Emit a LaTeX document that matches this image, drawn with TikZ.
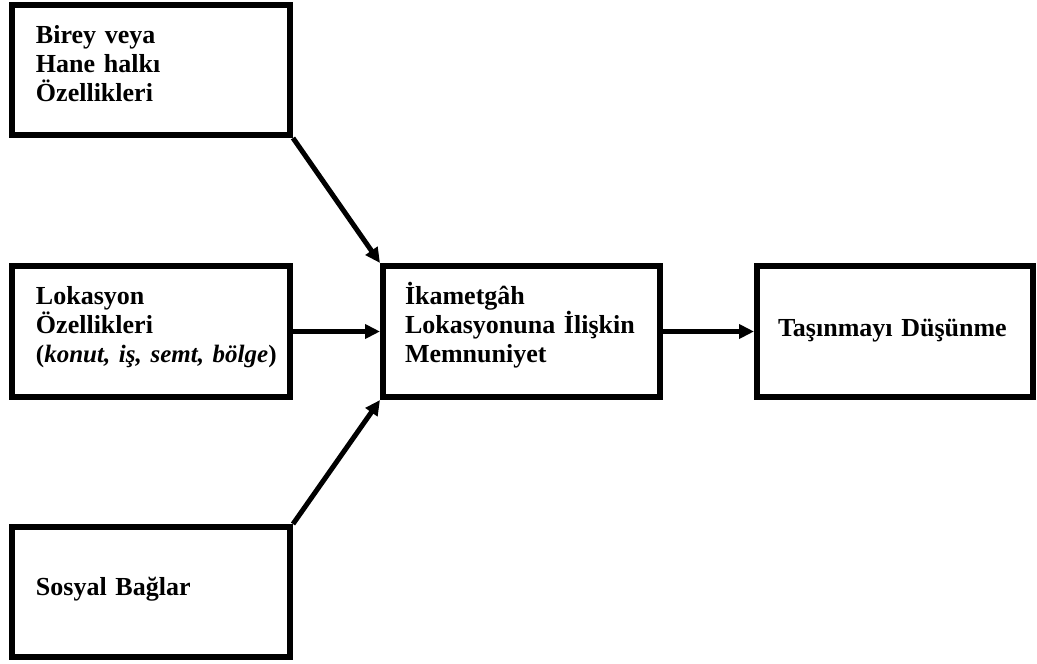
\documentclass[tikz,border=0pt]{standalone}
\usepackage{fontspec}
\setmainfont{Liberation Serif}
\usetikzlibrary{arrows.meta}
\newcommand{\inset}[2]{\leftskip=#1\relax\hyphenpenalty=10000\relax #2\par}
\begin{document}
\begin{tikzpicture}[x=1pt,y=-1pt,
  box/.style={draw, line width=6pt, anchor=north west, align=left,
    text width=270pt, inner xsep=4pt, inner ysep=0pt,
    text height=38pt, text depth=92pt,
    font=\bfseries\fontsize{26}{29}\selectfont},
  conn/.style={line width=5pt, -{Triangle[length=15pt,width=14pt]}}]
\useasboundingbox (0,0) rectangle (1037,664);
\node[box] (b1) at (9,2) {\inset{20pt}{Birey veya\\Hane halkı\\Özellikleri}};
\node[box, text depth=93pt] (b2) at (9,263) {\inset{20pt}{Lokasyon\\Özellikleri\\{\fontsize{25}{29}\selectfont(\textit{konut, iş, semt, bölge})}}};
\node[box, text height=68pt, text depth=62pt] (b3) at (9,524) {\inset{20pt}{Sosyal Bağlar}};
\node[box, text width=269pt, text depth=93pt] (c) at (380,263) {\inset{18pt}{İkametgâh\\Lokasyonuna İlişkin\\Memnuniyet}};
\node[box, text width=268pt, text height=70pt, text depth=61pt] (r) at (754,263) {\inset{17pt}{Taşınmayı Düşünme}};
\draw[conn] (b1.south east) -- (c.north west);
\draw[conn] (b2.east) -- (c.west);
\draw[conn] (b3.north east) -- (c.south west);
\draw[conn] (c.east) -- (r.west);
\end{tikzpicture}
\end{document}
